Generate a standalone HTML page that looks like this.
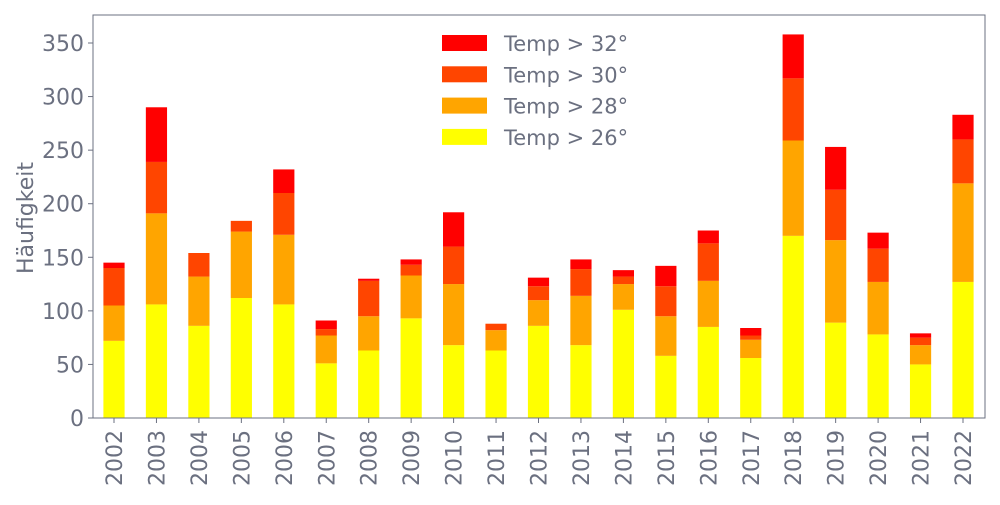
<!DOCTYPE html>
<html><head><meta charset="utf-8"><style>
body{margin:0;background:#fff}
svg text{font-family:"DejaVu Sans",sans-serif;fill:#6b7080}
</style></head><body>
<svg id="s" width="1000" height="500" xmlns="http://www.w3.org/2000/svg"></svg>
<script>
const d=[[72,105,140,145],[106,191,239,290],[86,132,154,154],[112,174,184,184],[106,171,210,232],[51,77,83,91],[63,95,128,130],[93,133,143,148],[68,125,160,192],[63,82,88,88],[86,110,123,131],[68,114,139,148],[101,125,132,138],[58,95,123,142],[85,128,163,175],[56,73,77,84],[170,259,317,358],[89,166,213,253],[78,127,158,173],[50,68,75,79],[127,219,260,283]];
const cols=["#ffff00","#ffa500","#ff4500","#ff0000"];
const Y=v=>418-v*375/350;
let h='';
d.forEach((r,i)=>{const cx=114+i*42.45;let prev=0;r.forEach((v,k)=>{if(v>prev)h+=`<rect x="${cx-10.6}" y="${Y(v)}" width="21.2" height="${Y(prev)-Y(v)}" fill="${cols[k]}"/>`;prev=v;});
h+=`<line x1="${cx}" y1="418" x2="${cx}" y2="423" stroke="#6b7080"/>`;
h+=`<text transform="translate(${cx+8},486) rotate(-90)" font-size="22">${2002+i}</text>`;});
for(let v=0;v<=350;v+=50){h+=`<line x1="88" y1="${Y(v)}" x2="93" y2="${Y(v)}" stroke="#6b7080"/><text x="84" y="${Y(v)+8}" font-size="22" text-anchor="end">${v}</text>`;}
h+=`<rect x="93" y="15" width="892" height="403" fill="none" stroke="#6b7080"/>`;
h+=`<text transform="translate(33,218) rotate(-90)" font-size="22" text-anchor="middle">Häufigkeit</text>`;
const lab=["Temp > 32°","Temp > 30°","Temp > 28°","Temp > 26°"];
lab.forEach((t,j)=>{const y=35+j*31.3;h+=`<rect x="442" y="${y}" width="45" height="16" fill="${cols[3-j]}"/><text x="504" y="${y+16}" font-size="21">${t}</text>`;});
document.getElementById('s').innerHTML=h;
</script>
</body></html>
